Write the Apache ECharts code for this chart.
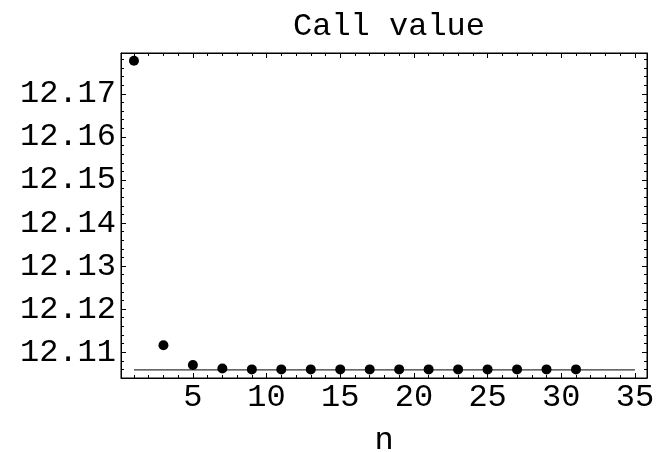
<!DOCTYPE html>
<html>
<head>
<meta charset="utf-8">
<script src="https://cdn.jsdelivr.net/npm/echarts@6/dist/echarts.min.js"></script>
<style>html,body{margin:0;padding:0;background:#fff}#c{width:662px;height:452px}</style>
</head>
<body>
<div id="c"></div>
<script>
const nValues = [1, 3, 5, 7, 9, 11, 13, 15, 17, 19, 21, 23, 25, 27, 29, 31];
const callValues = [12.1777, 12.1116, 12.1070, 12.1062, 12.1060, 12.1060, 12.1060, 12.1060, 12.1060, 12.1060, 12.1060, 12.1060, 12.1060, 12.1060, 12.1060, 12.1060];
const limitN = [1, 35];
const limitValue = 12.1059;
const titleText = 'Call value';
const xName = 'n';

const FONT = 'Liberation Mono';
const FS = 32;
const chart = echarts.init(document.getElementById('c'));
const tickCommon = {
  axisLine: {show: true, lineStyle: {color: '#000', width: 1}},
  axisTick: {show: true, inside: true, length: 5, lineStyle: {color: '#000'}},
  minorTick: {show: true, splitNumber: 5, length: 3, lineStyle: {color: '#000'}},
  splitLine: {show: false}
};
chart.setOption({
  animation: false,
  backgroundColor: '#fff',
  title: {
    text: titleText, left: 384, top: 6, textAlign: 'center',
    textStyle: {fontFamily: FONT, fontWeight: 'normal', fontSize: FS, color: '#000'}
  },
  grid: {left: 121, top: 53, right: 15, bottom: 74, show: true, borderColor: '#000', borderWidth: 1,
    containLabel: false, outerBoundsMode: 'none'},
  xAxis: [{
    type: 'value', min: 0.12, max: 35.82, splitNumber: 7,
    position: 'bottom',
    name: xName, nameLocation: 'middle', nameGap: 47,
    nameTextStyle: {fontFamily: FONT, fontSize: FS, color: '#000'},
    axisLabel: {fontFamily: FONT, fontSize: FS, color: '#000', margin: 4, showMinLabel: false, showMaxLabel: false},
    ...tickCommon
  }, {
    type: 'value', min: 0.12, max: 35.82, splitNumber: 7, position: 'top',
    axisLabel: {show: false}, ...tickCommon
  }],
  yAxis: [{
    type: 'value', min: 12.1040, max: 12.1795, splitNumber: 7, position: 'left',
    axisLabel: {fontFamily: FONT, fontSize: FS, color: '#000', margin: 5, showMinLabel: false, showMaxLabel: false,
      formatter: v => v.toFixed(2)},
    ...tickCommon
  }, {
    type: 'value', min: 12.1040, max: 12.1795, splitNumber: 7, position: 'right',
    axisLabel: {show: false}, ...tickCommon
  }],
  series: [{
    type: 'line', data: limitN.map(n => [n, limitValue]),
    symbol: 'none', lineStyle: {color: '#333', width: 1.2}, z: 1
  }, {
    type: 'scatter', data: nValues.map((n, i) => [n, callValues[i]]),
    symbol: 'circle', symbolSize: 10, itemStyle: {color: '#000', opacity: 1}, z: 2
  }]
});
</script>
</body>
</html>
